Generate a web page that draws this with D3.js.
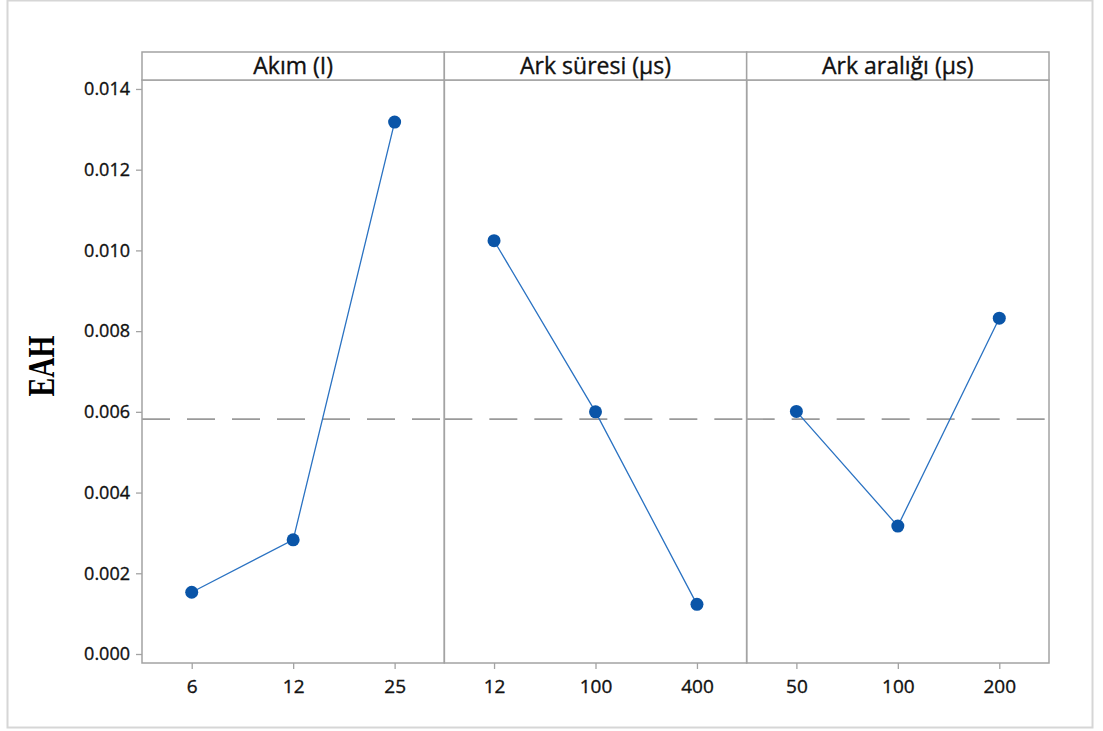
<!DOCTYPE html>
<html>
<head>
<meta charset="utf-8">
<script src="https://cdn.jsdelivr.net/npm/d3@7"></script>
<style>
  html, body { margin: 0; padding: 0; background: #ffffff; }
  svg { display: block; }
</style>
</head>
<body>
<svg id="chart" width="1103" height="731"></svg>
<script>
// Main effects of each factor on EAH (mean response per level)
const factors = ["Akım (I)", "Ark süresi (µs)", "Ark aralığı (µs)"];
const levelsAkim = ["6", "12", "25"];
const levelsSure = ["12", "100", "400"];
const levelsAralik = ["50", "100", "200"];
const meansAkim = [0.00153, 0.00283, 0.01318];
const meansSure = [0.01024, 0.00600, 0.00123];
const meansAralik = [0.00601, 0.00317, 0.00832];
const grandMean = 0.00582;
const yTickValues = [0.000, 0.002, 0.004, 0.006, 0.008, 0.010, 0.012, 0.014];
const yLabel = "EAH";

const panelData = [
  { title: factors[0], levels: levelsAkim, values: meansAkim },
  { title: factors[1], levels: levelsSure, values: meansSure },
  { title: factors[2], levels: levelsAralik, values: meansAralik }
];

const svg = d3.select("#chart");

// layout
const plotLeft = 142, plotRight = 1049;
const stripTop = 52, plotTop = 80, plotBottom = 663;
const panelW = (plotRight - plotLeft) / panelData.length;

const frameColor = "#d6d6d6";
const axisColor = "#a3a3a3";
const textColor = "#111111";
const lineColor = "#2a72c2";
const markerColor = "#0a55a8";
const font = "'Open Sans', 'Noto Sans', sans-serif";

// slightly heavier text rendering
function styleText(sel, size) {
  sel.attr("fill", textColor)
    .attr("stroke", textColor)
    .attr("stroke-width", 0.35)
    .style("font-family", font)
    .style("font-size", size);
}

// outer frame
svg.append("rect")
  .attr("x", 7.5).attr("y", 0.5)
  .attr("width", 1085).attr("height", 727)
  .attr("fill", "#ffffff")
  .attr("stroke", frameColor)
  .attr("stroke-width", 2);

const y = d3.scaleLinear()
  .domain([-0.000223, 0.014222])
  .range([plotBottom, plotTop]);

// y axis
const yAxis = svg.append("g")
  .attr("transform", `translate(${plotLeft},0)`)
  .call(d3.axisLeft(y).tickValues(yTickValues).tickFormat(d3.format(".3f")).tickSize(6).tickPadding(6));
yAxis.select(".domain").remove();
yAxis.selectAll(".tick line").attr("stroke", axisColor).attr("stroke-width", 1.3);
styleText(yAxis.selectAll(".tick text"), "18px");

// y label (condensed serif)
svg.append("text")
  .attr("transform", "translate(54,366) rotate(-90) scale(0.74,1)")
  .attr("text-anchor", "middle")
  .attr("fill", "#000")
  .style("font-family", "'Liberation Serif', 'DejaVu Serif', serif")
  .style("font-weight", "bold")
  .style("font-size", "38px")
  .text(yLabel);

panelData.forEach((p, i) => {
  const x0 = plotLeft + i * panelW;
  const x1 = x0 + panelW;
  const x = d3.scalePoint().domain(p.levels).range([x0, x1]).padding(0.49);

  const g = svg.append("g");

  // reference line at overall mean
  g.append("line")
    .attr("x1", x0).attr("x2", x1)
    .attr("y1", y(grandMean)).attr("y2", y(grandMean))
    .attr("stroke", "#9a9a9a")
    .attr("stroke-width", 1.6)
    .attr("stroke-dasharray", "28,17");

  // panel box
  g.append("rect")
    .attr("x", x0).attr("y", plotTop)
    .attr("width", panelW).attr("height", plotBottom - plotTop)
    .attr("fill", "none")
    .attr("stroke", axisColor)
    .attr("stroke-width", 1.5);

  // header strip
  g.append("rect")
    .attr("x", x0).attr("y", stripTop)
    .attr("width", panelW).attr("height", plotTop - stripTop)
    .attr("fill", "#ffffff")
    .attr("stroke", axisColor)
    .attr("stroke-width", 1.5);
  styleText(
    g.append("text")
      .attr("x", (x0 + x1) / 2).attr("y", 74)
      .attr("text-anchor", "middle")
      .text(p.title),
    "23px");

  // x axis
  const xAxis = svg.append("g")
    .attr("transform", `translate(0,${plotBottom})`)
    .call(d3.axisBottom(x).tickSize(6).tickPadding(11));
  xAxis.select(".domain").remove();
  xAxis.selectAll(".tick line").attr("stroke", axisColor).attr("stroke-width", 1.3);
  styleText(xAxis.selectAll(".tick text"), "19px");

  const pts = p.levels.map((lv, k) => ({ lv, v: p.values[k] }));

  g.append("path")
    .datum(pts)
    .attr("fill", "none")
    .attr("stroke", lineColor)
    .attr("stroke-width", 1.3)
    .attr("d", d3.line().x(d => x(d.lv)).y(d => y(d.v)));

  g.selectAll("circle")
    .data(pts)
    .join("circle")
    .attr("cx", d => x(d.lv))
    .attr("cy", d => y(d.v))
    .attr("r", 6.5)
    .attr("fill", markerColor);
});
</script>
</body>
</html>
